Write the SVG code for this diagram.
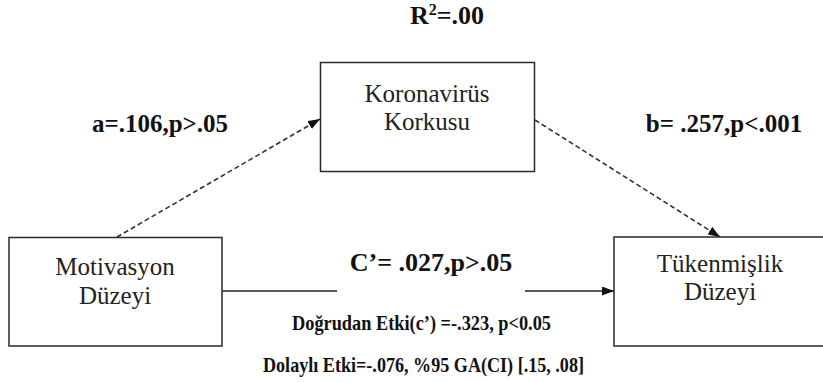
<svg xmlns="http://www.w3.org/2000/svg" width="823" height="382" viewBox="0 0 823 382">
  <style>
    .box { fill: #ffffff; stroke: #2a2a2a; stroke-width: 1.5; }
    .node { font-family: "Liberation Serif", "DejaVu Serif", serif; font-size: 25px; fill: #222222; text-anchor: middle; }
    .lbl { font-family: "Liberation Serif", "DejaVu Serif", serif; font-weight: bold; fill: #111111; }
    .dash { fill: none; stroke: #333333; stroke-width: 1.6; stroke-dasharray: 5 3; }
    .solid { fill: none; stroke: #222222; stroke-width: 1.6; }
  </style>
  <defs>
    <marker id="arrow" markerUnits="userSpaceOnUse" markerWidth="12" markerHeight="9" refX="12" refY="4.5" orient="auto">
      <path d="M0,0 L12,4.5 L0,9 z" fill="#111111" stroke="none"/>
    </marker>
  </defs>
  <rect width="823" height="382" fill="#ffffff"/>

  <g id="connectors">
    <path class="dash" d="M117,237 L320,119" marker-end="url(#arrow)"/>
    <path class="dash" d="M535,120 L720,237" marker-end="url(#arrow)"/>
    <path class="solid" d="M222,291 L337,291"/>
    <path class="solid" d="M525,291 L614,291" marker-end="url(#arrow)"/>
  </g>

  <g id="node-koronavirus">
    <rect class="box" x="320.5" y="62.5" width="214" height="109"/>
    <text class="node" x="427" y="102">Koronavirüs</text>
    <text class="node" x="427" y="130">Korkusu</text>
  </g>

  <g id="node-motivasyon">
    <rect class="box" x="9" y="237.5" width="213" height="108.5"/>
    <text class="node" x="115" y="275">Motivasyon</text>
    <text class="node" x="115" y="304">Düzeyi</text>
  </g>

  <g id="node-tukenmislik">
    <rect class="box" x="614" y="237" width="214" height="109"/>
    <text class="node" x="720" y="272">Tükenmişlik</text>
    <text class="node" x="720" y="300">Düzeyi</text>
  </g>

  <g id="labels">
    <text class="lbl" x="410" y="24" font-size="26">R<tspan font-size="16" dy="-9">2</tspan><tspan dy="9">=.00</tspan></text>
    <text class="lbl" x="160" y="132" font-size="25" text-anchor="middle">a=.106,p&gt;.05</text>
    <text class="lbl" x="724" y="132" font-size="25" text-anchor="middle">b= .257,p&lt;.001</text>
    <text class="lbl" x="431" y="271" font-size="26" text-anchor="middle">C’= .027,p&gt;.05</text>
    <text class="lbl" x="292" y="330" font-size="22" textLength="259" lengthAdjust="spacingAndGlyphs">Doğrudan Etki(c’) =-.323, p&lt;0.05</text>
    <text class="lbl" x="263" y="372" font-size="22" textLength="321" lengthAdjust="spacingAndGlyphs">Dolaylı Etki=-.076, %95 GA(CI) [.15, .08]</text>
  </g>
</svg>
